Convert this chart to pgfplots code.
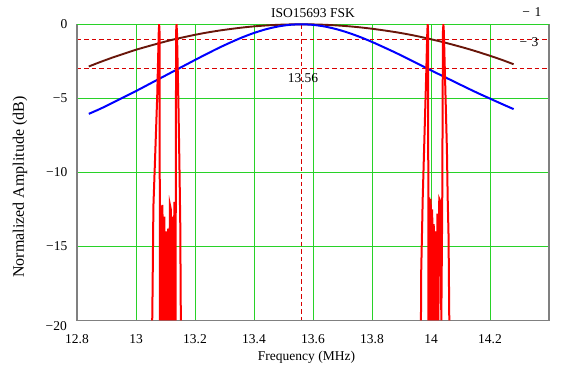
\documentclass[border=0pt]{standalone}
\usepackage{pgfplots}
\pgfplotsset{compat=1.18}
\usepackage{fontspec}
\setmainfont{Liberation Serif}
\definecolor{gridgreen}{RGB}{40,210,40}
\definecolor{axisgray}{RGB}{128,128,128}
\definecolor{dashred}{RGB}{215,0,0}
\definecolor{tracebrown}{RGB}{105,22,10}
\definecolor{traceblue}{RGB}{0,0,255}
\definecolor{tracered}{RGB}{255,0,0}
\begin{document}
\fontsize{13.5bp}{16bp}\selectfont
\begin{tikzpicture}
\begin{axis}[
  scale only axis, width=472bp, height=296bp,
  xmin=12.8, xmax=14.4, ymin=-20, ymax=0,
  clip=false,
  axis line style={draw=none},
  xtick={12.8,13,13.2,13.4,13.6,13.8,14,14.2},
  xticklabels={12.8,13,13.2,13.4,13.6,13.8,14,14.2},
  ytick={-15,-10,-5,0},
  yticklabels={−15,−10,−5,0},
  major tick length=0pt,
  grid=major,
  major grid style={gridgreen, line width=0.9bp},
  xticklabel style={font=\fontsize{13.5bp}{16bp}\selectfont, yshift=-10bp},
  yticklabel style={font=\fontsize{13.5bp}{16bp}\selectfont, xshift=-5bp},
]
% reference dashed lines
\addplot[color=dashred, solid, line width=1.05bp, dash pattern=on 4.5bp off 3bp] table {
x y
12.8 -1
14.4 -1
};
\addplot[color=dashred, solid, line width=1.05bp, dash pattern=on 4.5bp off 3bp] table {
x y
12.8 -3
14.4 -3
};
\addplot[color=dashred, solid, line width=1.05bp, dash pattern=on 4.5bp off 3bp] table {
x y
13.56 0
13.56 -20
};
% border
\draw[axisgray, line width=1.6bp] (axis cs:12.8,0) -- (axis cs:12.8,-20) -- (axis cs:14.4,-20) -- (axis cs:14.4,0);
\draw[gridgreen, line width=1.2bp] (axis cs:12.8,0) -- (axis cs:14.4,0);
% brown curve
\addplot[tracebrown, line width=1.9bp, smooth] coordinates {
(12.84,-2.85) (12.88,-2.54) (12.92,-2.25) (12.96,-1.98) (13.00,-1.72) (13.04,-1.49)
(13.08,-1.27) (13.12,-1.06) (13.16,-0.88) (13.20,-0.71) (13.24,-0.56) (13.28,-0.43)
(13.32,-0.32) (13.36,-0.22) (13.40,-0.14) (13.44,-0.08) (13.48,-0.035) (13.52,-0.01)
(13.56,0) (13.60,-0.008) (13.64,-0.033) (13.68,-0.075) (13.72,-0.133) (13.76,-0.208)
(13.80,-0.30) (13.84,-0.41) (13.88,-0.53) (13.92,-0.67) (13.96,-0.83) (14.00,-1.01)
(14.04,-1.20) (14.08,-1.41) (14.12,-1.63) (14.16,-1.87) (14.20,-2.13) (14.24,-2.40) (14.28,-2.70)};
% blue curve
\addplot[traceblue, line width=2bp, smooth] coordinates {
(12.84,-6.05) (12.88,-5.70) (12.92,-5.31) (12.96,-4.91) (13.00,-4.51) (13.04,-4.09)
(13.08,-3.67) (13.12,-3.25) (13.16,-2.83) (13.20,-2.41) (13.24,-2.00) (13.28,-1.60)
(13.32,-1.23) (13.36,-0.885) (13.40,-0.585) (13.44,-0.338) (13.48,-0.153) (13.52,-0.039)
(13.56,0) (13.60,-0.038) (13.64,-0.151) (13.68,-0.332) (13.72,-0.573) (13.76,-0.862)
(13.80,-1.19) (13.84,-1.55) (13.88,-1.92) (13.92,-2.31) (13.96,-2.71) (14.00,-3.11)
(14.04,-3.50) (14.08,-3.89) (14.12,-4.28) (14.16,-4.66) (14.20,-5.02) (14.24,-5.38) (14.28,-5.73)};
% red spectrum, lower sideband
\addplot[tracered, line width=2bp, sharp plot] coordinates {
(13.0550,-20) (13.0560,-18.3) (13.0590,-12.3) (13.0660,-8.3) (13.0720,-4.8)
(13.0770,-0.6) (13.0785,0) (13.0800,-0.6) (13.0810,-20) (13.0840,-12.5)
(13.0870,-20) (13.0890,-12.2) (13.0920,-14.5) (13.0940,-20) (13.0960,-13.0)
(13.0990,-20) (13.1010,-14.0) (13.1040,-14.6) (13.1060,-20) (13.1090,-13.8)
(13.1120,-20) (13.1150,-12.2) (13.1180,-12.5) (13.1200,-20) (13.1230,-13.0)
(13.1270,-20) (13.1300,-12.0) (13.1340,-20) (13.1360,-0.5) (13.1375,0)
(13.1390,-0.6) (13.1440,-5.6) (13.1470,-9.2) (13.1500,-13.4) (13.1520,-20)};
% red spectrum, upper sideband
\addplot[tracered, line width=2bp, sharp plot] coordinates {
(13.9660,-20) (13.9665,-17.0) (13.9720,-11.7) (13.9775,-7.8) (13.9835,-3.6)
(13.9875,-0.5) (13.9888,0) (13.9900,-0.5) (13.9915,-20) (13.9940,-11.7)
(13.9960,-20) (13.9990,-11.8) (14.0020,-20) (14.0040,-12.5) (14.0070,-20)
(14.0090,-13.5) (14.0110,-14.3) (14.0130,-20) (14.0160,-14.0) (14.0190,-20)
(14.0220,-12.8) (14.0250,-20) (14.0280,-11.8) (14.0320,-12.0) (14.0350,-20)
(14.0380,-12.3) (14.0405,-0.5) (14.0420,0) (14.0435,-0.5) (14.0510,-6.2)
(14.0540,-8.5) (14.0565,-11.7) (14.0595,-14.3) (14.0620,-20)};
% annotations
\node[anchor=east, inner sep=0pt] at ([xshift=-10bp, yshift=-6bp]axis cs:12.8,-20) {−20};
\node[inner sep=0pt] at ([yshift=11.5bp]axis cs:13.6,0) {ISO15693 FSK};
\node[inner sep=0pt] at (axis cs:14.342,0.80) {−\,\,1};
\node[inner sep=0pt] at (axis cs:14.332,-1.18) {−\,\,3};
\node[inner sep=0pt] at (axis cs:13.566,-3.66) {13.56};
\node[inner sep=0pt] at ([yshift=-37bp]axis cs:13.578,-20) {Frequency (MHz)};
\node[inner sep=0pt, rotate=90, font=\fontsize{16bp}{18bp}\selectfont] at ([xshift=-57bp]axis cs:12.8,-11.0) {Normalized Amplitude (dB)};
\end{axis}
\pgfresetboundingbox
\path (current axis.south west) ++(-77bp,-46bp) coordinate (bl);
\path (current axis.north east) ++(27bp,24.3bp) coordinate (tr);
\path (bl) rectangle (tr);
\end{tikzpicture}
\end{document}
